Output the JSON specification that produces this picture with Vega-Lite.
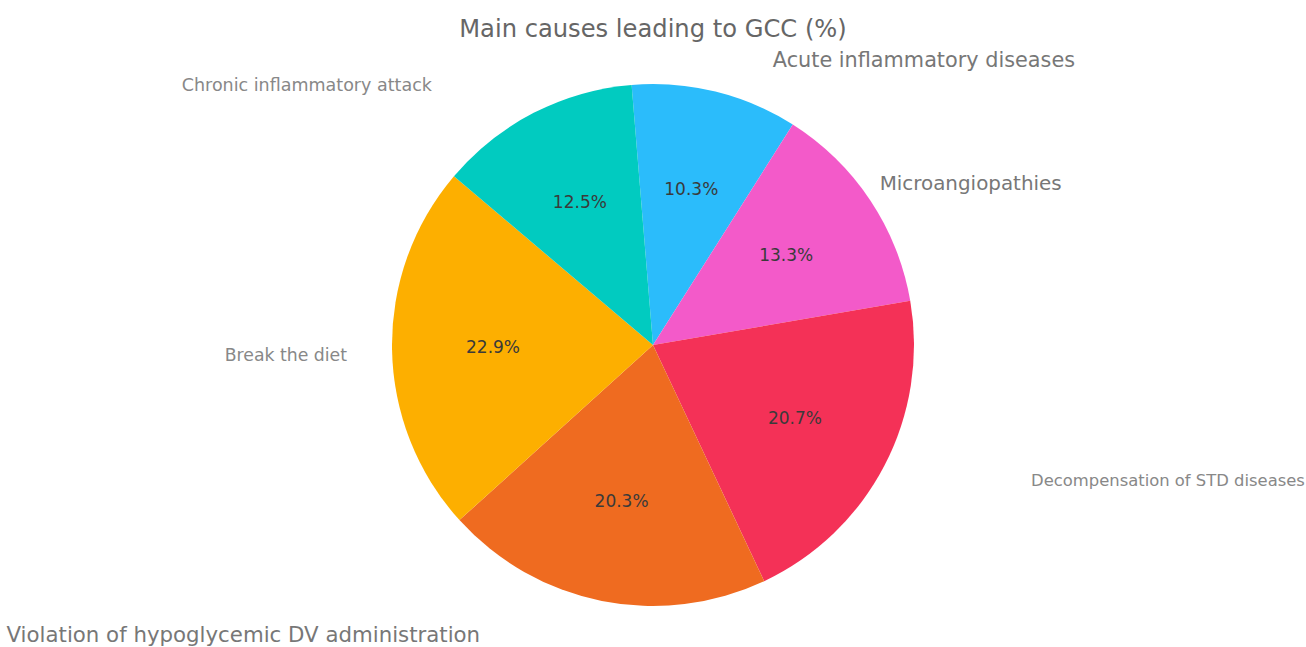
{
  "$schema": "https://vega.github.io/schema/vega-lite/v6.json",
  "width": 1306,
  "height": 604,
  "autosize": {"type": "none"},
  "padding": {"top": 43, "left": 0, "right": 0, "bottom": 0},
  "background": "white",
  "title": {"text": "Main causes leading to GCC (%)", "fontSize": 24.2, "font": "DejaVu Sans", "fontWeight": "normal", "color": "#666666", "anchor": "middle", "baseline": "alphabetic", "offset": -21},
  "data": {"values": [
    {"cause": "Acute inflammatory diseases", "share": 0.103, "idx": 1},
    {"cause": "Microangiopathies", "share": 0.133, "idx": 2},
    {"cause": "Decompensation of STD diseases", "share": 0.207, "idx": 3},
    {"cause": "Violation of hypoglycemic DV administration", "share": 0.203, "idx": 4},
    {"cause": "Break the diet", "share": 0.229, "idx": 5},
    {"cause": "Chronic inflammatory attack", "share": 0.125, "idx": 6}
  ]},
  "encoding": {
    "theta": {"field": "share", "type": "quantitative", "stack": true, "scale": {"range": [-0.082, 6.2012]}},
    "order": {"field": "idx", "type": "quantitative"}
  },
  "layer": [
    {
      "mark": {"type": "arc", "outerRadius": 261},
      "encoding": {
        "color": {"field": "cause", "type": "nominal", "legend": null,
          "scale": {
            "domain": ["Acute inflammatory diseases", "Microangiopathies", "Decompensation of STD diseases", "Violation of hypoglycemic DV administration", "Break the diet", "Chronic inflammatory attack"],
            "range": ["#2bbcfb", "#f35ac9", "#f43157", "#ef6b20", "#fdaf00", "#01cbc0"]
          }}
      }
    },
    {
      "mark": {"type": "text", "radius": 160, "fontSize": 17, "font": "DejaVu Sans", "color": "#3a3a3a"},
      "encoding": {"text": {"field": "share", "type": "quantitative", "format": ".1%"}}
    },
    {
      "mark": {"type": "text", "radius": 300, "align": "left", "baseline": "middle", "dx": 48, "dy": 7, "fontSize": 20.8, "font": "DejaVu Sans", "color": "#777777"},
      "encoding": {"text": {"condition": {"test": "datum.cause === 'Acute inflammatory diseases'", "field": "cause", "type": "nominal"}, "value": ""}}
    },
    {
      "mark": {"type": "text", "radius": 300, "align": "left", "baseline": "middle", "dx": -23, "dy": 5, "fontSize": 19.9, "font": "DejaVu Sans", "color": "#777777"},
      "encoding": {"text": {"condition": {"test": "datum.cause === 'Microangiopathies'", "field": "cause", "type": "nominal"}, "value": ""}}
    },
    {
      "mark": {"type": "text", "radius": 300, "align": "left", "baseline": "middle", "dx": 112, "dy": -3, "fontSize": 16.4, "font": "DejaVu Sans", "color": "#888888"},
      "encoding": {"text": {"condition": {"test": "datum.cause === 'Decompensation of STD diseases'", "field": "cause", "type": "nominal"}, "value": ""}}
    },
    {
      "mark": {"type": "text", "radius": 300, "align": "right", "baseline": "middle", "dx": -114, "dy": -3, "fontSize": 21.3, "font": "DejaVu Sans", "color": "#777777"},
      "encoding": {"text": {"condition": {"test": "datum.cause === 'Violation of hypoglycemic DV administration'", "field": "cause", "type": "nominal"}, "value": ""}}
    },
    {
      "mark": {"type": "text", "radius": 300, "align": "right", "baseline": "middle", "dx": -6, "dy": 6, "fontSize": 17.3, "font": "DejaVu Sans", "color": "#888888"},
      "encoding": {"text": {"condition": {"test": "datum.cause === 'Break the diet'", "field": "cause", "type": "nominal"}, "value": ""}}
    },
    {
      "mark": {"type": "text", "radius": 300, "align": "right", "baseline": "middle", "dx": -84, "dy": 8, "fontSize": 17.5, "font": "DejaVu Sans", "color": "#888888"},
      "encoding": {"text": {"condition": {"test": "datum.cause === 'Chronic inflammatory attack'", "field": "cause", "type": "nominal"}, "value": ""}}
    }
  ]
}
